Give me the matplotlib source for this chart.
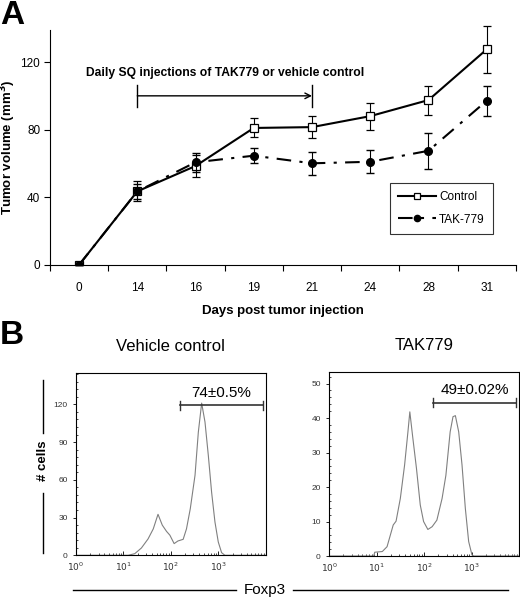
import numpy as np
import matplotlib
matplotlib.use('Agg')
import matplotlib.pyplot as plt
from matplotlib.lines import Line2D
from matplotlib.ticker import FixedLocator, LogLocator, NullFormatter

plt.rcParams['font.family'] = ['Liberation Sans', 'DejaVu Sans']

# panel A data (tumor volume, mm3)
days = ['0', '14', '16', '19', '21', '24', '28', '31']
control = [0, 43.5, 58.5, 81, 81.5, 88, 97.5, 127.5]
control_err = [0, 5.9, 6.5, 5.6, 6.3, 8, 8.6, 13.7]
tak = [0, 43.5, 60.7, 64.6, 60.1, 61, 67.5, 97.1]
tak_err = [0, 4.5, 5.5, 4.5, 6.7, 6.7, 10.7, 8.9]

# panel B histograms: log10(Foxp3) and counts
veh_logx = [0.0, 1.10, 1.24, 1.38, 1.52, 1.63, 1.73, 1.82, 1.91, 1.98, 2.07, 2.15, 2.26,
            2.33, 2.41, 2.51, 2.58, 2.65, 2.72, 2.79, 2.86, 2.93, 3.00, 3.07, 3.14, 4.0]
veh_count = [0, 0, 1.3, 5.8, 13, 21, 32.6, 24, 19, 16, 9.3, 11.4, 12.7,
             21, 37, 63.6, 98, 121, 106, 79.5, 50, 26.5, 10.6, 2.1, 0, 0]
tak_logx = [0.0, 0.94, 0.96, 1.12, 1.22, 1.35, 1.41, 1.50, 1.59, 1.66, 1.70, 1.76, 1.84,
            1.92, 1.99, 2.08, 2.17, 2.27, 2.38, 2.46, 2.55, 2.61, 2.66, 2.73, 2.80, 2.87,
            2.94, 3.01, 3.05, 4.0]
tak_count = [0, 0, 1.1, 1.3, 2.7, 9, 10.1, 16.7, 26.4, 36, 41.8, 34.6, 25.4,
             14.8, 10, 7.7, 8.5, 10.4, 16.7, 23.4, 36, 40.4, 40.7, 36, 26.4, 13.8,
             4.2, 0.3, 0, 0]
veh_gate = (2.19, 3.94, 119.2)
tak_gate = (2.19, 3.94, 44.4)

fig = plt.figure(figsize=(5.2, 5.98), dpi=100)

# ---- panel A ----
ax = fig.add_axes([0.096, 0.557, 0.896, 0.393])
xs = np.arange(len(days))
dashdot = (0, (7, 4, 1.5, 4))
c1 = ax.errorbar(xs, control, yerr=control_err, color='black', lw=1.5, marker='s', ms=5.5,
                 mfc='white', mec='black', mew=0.9, capsize=3, elinewidth=0.8,
                 ecolor='black', zorder=3)
c2 = ax.errorbar(xs, tak, yerr=tak_err, color='black', lw=1.5, ls=dashdot, marker='o',
                 ms=5.5, mfc='black', mec='black', capsize=3, elinewidth=0.8,
                 ecolor='black', zorder=4)
for cont in (c1, c2):
    for art in cont.lines[1] + cont.lines[2]:
        art.set_clip_on(False)
ax.set_xlim(-0.5, 7.5)
ax.set_ylim(0, 139)
ax.set_yticks([0, 40, 80, 120])
ax.set_xticks(xs)
ax.set_xticklabels(days)
ax.xaxis.set_minor_locator(FixedLocator(np.arange(-0.5, 8, 1)))
ax.tick_params(axis='x', which='major', length=0, labelsize=8.5, pad=12)
ax.tick_params(axis='x', which='minor', length=4, width=0.8, direction='out')
ax.tick_params(axis='y', length=4, width=0.8, labelsize=8.5, pad=3)
for s in ['top', 'right']:
    ax.spines[s].set_visible(False)
for s in ['left', 'bottom']:
    ax.spines[s].set_linewidth(0.8)
ax.set_ylabel('Tumor volume (mm$^\\mathbf{3}$)', fontsize=9.5, weight='bold')
ax.yaxis.set_label_coords(-0.068, 0.5)
ax.set_xlabel('Days post tumor injection', fontsize=9.5, weight='bold', labelpad=8)

# injection bracket
ax.plot([1, 1], [93.5, 106.5], color='black', lw=1)
ax.plot([4, 4], [93.5, 106.5], color='black', lw=1)
ax.annotate('', xy=(4, 100), xytext=(1, 100),
            arrowprops=dict(arrowstyle='->', lw=1, color='black', shrinkA=0, shrinkB=0))
ax.text(2.5, 113.5, 'Daily SQ injections of TAK779 or vehicle control', ha='center',
        va='center', fontsize=8.7, weight='bold')

handles = [Line2D([], [], color='black', lw=1.5, marker='s', ms=4.5, mfc='white',
                  mec='black', mew=0.9),
           Line2D([], [], color='black', lw=1.5, ls=dashdot, marker='o', ms=4.5,
                  mfc='black', mec='black')]
leg = ax.legend(handles, ['Control', 'TAK-779'], loc='lower right',
                bbox_to_anchor=(0.951, 0.132), borderaxespad=0, fontsize=8.5,
                frameon=True, fancybox=False, edgecolor='black', handlelength=3.2,
                borderpad=0.7, labelspacing=0.9, handletextpad=0.3)
leg.get_frame().set_linewidth(0.8)

fig.text(0.0, 1.0, 'A', ha='left', va='top', fontsize=24, weight='bold')
fig.text(0.0, 1 - 320 / 598, 'B', ha='left', va='top', fontsize=24, weight='bold')

# ---- panel B ----
def hist_panel(rect, logx, count, ymax, yticks, gate, gate_label, title):
    h = fig.add_axes(rect)
    h.plot(10 ** np.array(logx), count, color='#808080', lw=0.8)
    h.set_xscale('log')
    h.set_xlim(1, 1e4)
    h.set_ylim(0, ymax)
    h.set_xticks([1, 10, 100, 1000])
    h.set_xticklabels(['$10^0$', '$10^1$', '$10^2$', '$10^3$'])
    h.xaxis.set_minor_locator(LogLocator(base=10, subs=np.arange(2, 10), numticks=10))
    h.xaxis.set_minor_formatter(NullFormatter())
    h.set_yticks(yticks)
    h.yaxis.set_minor_locator(FixedLocator(np.arange(0, ymax, yticks[1] / 5)))
    h.tick_params(axis='x', which='major', direction='in', length=3, width=0.6,
                  labelsize=6.5, labelcolor='#333333', pad=4)
    h.tick_params(axis='x', which='minor', direction='in', length=1.5, width=0.5)
    h.tick_params(axis='y', which='major', direction='out', length=2.5, width=0.6,
                  labelsize=6, labelcolor='#333333')
    h.tick_params(axis='y', which='minor', direction='in', length=1.5, width=0.5)
    for s in h.spines.values():
        s.set_linewidth(0.8)
    lo, hi, yv = gate
    h.plot([10 ** lo, 10 ** hi], [yv, yv], color='#333333', lw=1.2)
    h.plot([10 ** lo, 10 ** lo], [yv - ymax * 0.025, yv + ymax * 0.025], color='#333333', lw=1)
    h.plot([10 ** hi, 10 ** hi], [yv - ymax * 0.025, yv + ymax * 0.025], color='#333333', lw=1)
    h.text(10 ** ((lo + hi) / 2), yv + ymax * 0.03, gate_label, ha='center', va='bottom',
           fontsize=11)
    h.set_title(title, fontsize=12, pad=16)
    return h

hist_panel([0.146, 0.0714, 0.365, 0.305], veh_logx, veh_count, 145, [0, 30, 60, 90, 120],
           veh_gate, '74±0.5%', 'Vehicle control')
hist_panel([0.633, 0.0702, 0.365, 0.308], tak_logx, tak_count, 53.4, [0, 10, 20, 30, 40, 50],
           tak_gate, '49±0.02%', 'TAK779')

# shared axis labels with rules
fig.text(43 / 520, 1 - 461 / 598, '# cells', rotation=90, ha='center', va='center',
         fontsize=9.5, weight='bold')
fig.add_artist(Line2D([43 / 520, 43 / 520], [1 - 380 / 598, 1 - 433 / 598],
                      color='black', lw=1))
fig.add_artist(Line2D([43 / 520, 43 / 520], [1 - 493 / 598, 1 - 553 / 598],
                      color='black', lw=1))
fig.text(265 / 520, 1 - 590 / 598, 'Foxp3', ha='center', va='center', fontsize=11)
fig.add_artist(Line2D([73 / 520, 236 / 520], [1 - 590 / 598, 1 - 590 / 598],
                      color='black', lw=1))
fig.add_artist(Line2D([293 / 520, 508 / 520], [1 - 590 / 598, 1 - 590 / 598],
                      color='black', lw=1))

fig.savefig('out.png', dpi=100)
